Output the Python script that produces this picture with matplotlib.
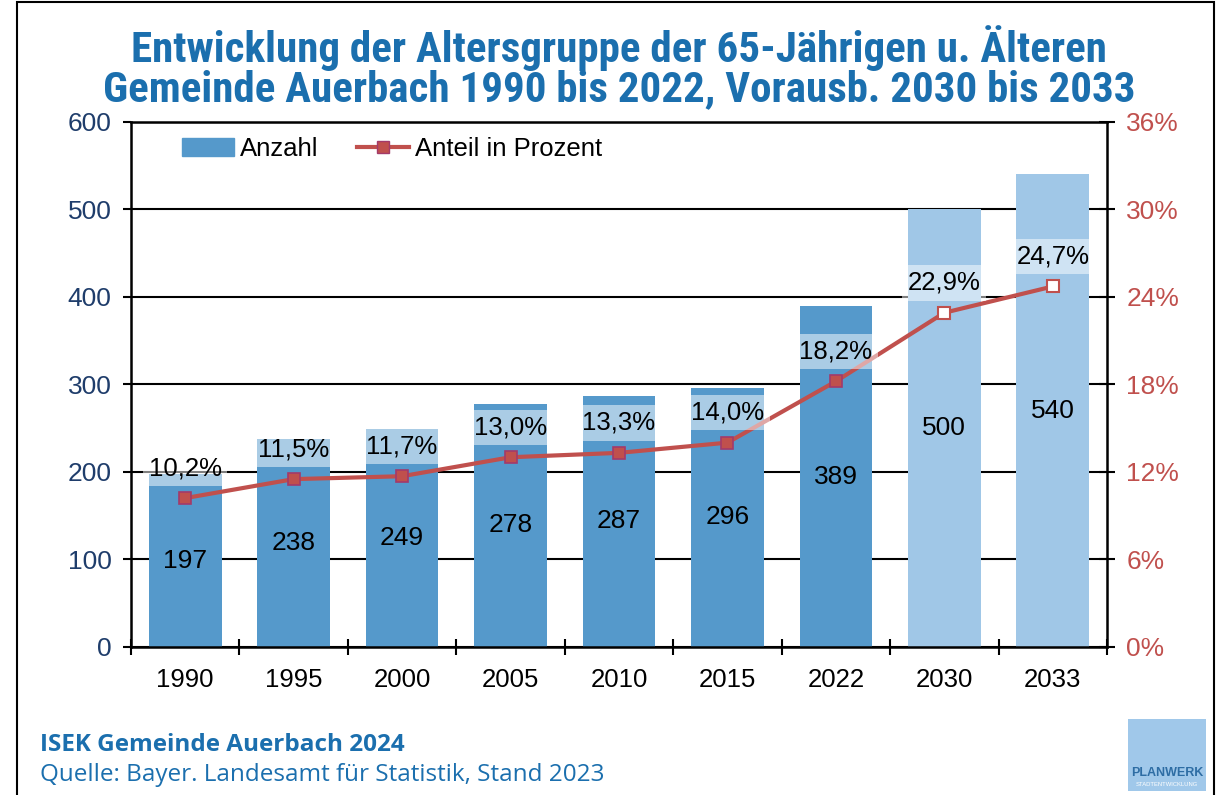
"""
Altersgruppe 65+ in Auerbach: Anzahl (Balken) und Anteil in Prozent (Linie)
"""

import matplotlib
matplotlib.use("Agg")
import matplotlib.pyplot as plt
from matplotlib import font_manager
from matplotlib.lines import Line2D
from matplotlib.patches import Patch, Rectangle

years = ["1990", "1995", "2000", "2005", "2010", "2015", "2022", "2030", "2033"]
anzahl = [197, 238, 249, 278, 287, 296, 389, 500, 540]
anteil = [10.2, 11.5, 11.7, 13.0, 13.3, 14.0, 18.2, 22.9, 24.7]
n_actual = 7  # 2030 and 2033 are projections

BAR_DARK = "#5599CB"
BAR_LIGHT = "#A0C7E7"
RED = "#C0504D"
RED_EDGE = "#A33A6A"
TITLE_BLUE = "#1B6FAE"
NAVY = "#1F3D6B"

available = {f.name for f in font_manager.fontManager.ttflist}

def pick(*names):
    for n in names:
        if n in available:
            return n
    return "DejaVu Sans"

BASE = pick("Liberation Sans", "Arial", "DejaVu Sans")
NARROW = pick("Liberation Sans Narrow", "DejaVu Sans Condensed", "Roboto Condensed", "Liberation Sans")
FOOT = pick("Open Sans", "Roboto", "Noto Sans")
plt.rcParams["font.family"] = [BASE, "DejaVu Sans"]

fig = plt.figure(figsize=(12.21, 7.95), dpi=100)
ax = fig.add_axes([131 / 1221, 1 - 647 / 795, (1107 - 131) / 1221, (647 - 121.5) / 795])
ax2 = ax.twinx()

x = list(range(len(years)))
colors = [BAR_DARK if i < n_actual else BAR_LIGHT for i in x]
ax.bar(x, anzahl, width=0.67, color=colors, zorder=2)
for i, v in enumerate(anzahl):
    ax.text(i, v / 2, str(v), ha="center", va="center", fontsize=19, color="black", zorder=4)

ax.set_xlim(-0.5, len(years) - 0.5)
ax.set_ylim(0, 600)
ax.set_yticks(range(0, 601, 100))
ax.grid(True, axis="y", color="black", linewidth=1.5)
ax.set_axisbelow(True)
ax.set_xticks(x)
ax.set_xticklabels(years, fontsize=18.5)
ax.set_xticks([i - 0.5 for i in range(len(years) + 1)], minor=True)
ax.tick_params(axis="x", which="major", length=0, pad=15)
ax.tick_params(axis="x", which="minor", length=12, width=1.5, direction="inout")
ax.tick_params(axis="y", length=6, width=1.5, direction="out", labelsize=19,
               labelcolor=NAVY, pad=8)
for s in ["left", "bottom", "top"]:
    ax.spines[s].set_linewidth(1.8)
ax.spines["right"].set_visible(False)

# share line
ax2.plot(x, anteil, color=RED, linewidth=3, zorder=3)
ax2.plot(x[:n_actual], anteil[:n_actual], "s", markersize=8, markerfacecolor=RED,
         markeredgecolor=RED_EDGE, markeredgewidth=1.2, zorder=4)
ax2.plot(x[n_actual:], anteil[n_actual:], "s", markersize=8, markerfacecolor="white",
         markeredgecolor=RED, markeredgewidth=1.5, zorder=4)
for i, p in enumerate(anteil):
    ax2.annotate(f"{p:.1f}%".replace(".", ","), (i, p), xytext=(0, 21.5),
                 textcoords="offset points", ha="center", va="center", fontsize=18.5,
                 zorder=5,
                 bbox=dict(boxstyle="square,pad=0.22", facecolor="white", alpha=0.5,
                           edgecolor="none"))
ax2.set_ylim(0, 36)
ax2.set_yticks(range(0, 37, 6))
ax2.set_yticklabels([f"{t}%" for t in range(0, 37, 6)])
ax2.tick_params(axis="y", length=12, width=1.5, direction="inout", labelsize=19,
                labelcolor=RED, pad=8)
ax2.spines["right"].set_linewidth(1.8)
for s in ["left", "bottom", "top"]:
    ax2.spines[s].set_visible(False)

handles = [Patch(color=BAR_DARK),
           Line2D([], [], color=RED, linewidth=3, marker="s", markersize=8,
                  markerfacecolor=RED, markeredgecolor=RED_EDGE)]
ax.legend(handles, ["Anzahl", "Anteil in Prozent"], ncol=2, frameon=False, fontsize=18.5,
          loc="center left", bbox_to_anchor=(0.042, 0.947), handlelength=2.0,
          handletextpad=0.25, columnspacing=1.5, borderaxespad=0)

# title and footer
fig.text(0.507, 1 - 48 / 795, "Entwicklung der Altersgruppe der 65-Jährigen u. Älteren",
         ha="center", va="center", fontsize=31, fontweight="bold", color=TITLE_BLUE,
         family=[NARROW, "DejaVu Sans"])
fig.text(0.507, 1 - 90 / 795, "Gemeinde Auerbach 1990 bis 2022, Vorausb. 2030 bis 2033",
         ha="center", va="center", fontsize=31, fontweight="bold", color=TITLE_BLUE,
         family=[NARROW, "DejaVu Sans"])
fig.text(40 / 1221, 1 - 745 / 795, "ISEK Gemeinde Auerbach 2024", ha="left", va="center",
         fontsize=17.5, fontweight="bold", color=TITLE_BLUE, family=[FOOT, "DejaVu Sans"])
fig.text(40 / 1221, 1 - 775 / 795, "Quelle: Bayer. Landesamt für Statistik, Stand 2023",
         ha="left", va="center", fontsize=17.5, color=TITLE_BLUE, family=[FOOT, "DejaVu Sans"])

# logo box
fig.add_artist(Rectangle((1128 / 1221, 1 - 791 / 795), 78 / 1221, 72 / 795,
                         transform=fig.transFigure, facecolor="#A0C8EA", edgecolor="none"))
fig.text(1167 / 1221, 1 - 773 / 795, "PLANWERK", ha="center", va="center", fontsize=9,
         fontweight="bold", color="#2E6DA4")
fig.text(1167 / 1221, 1 - 785 / 795, "STADTENTWICKLUNG", ha="center", va="center",
         fontsize=4.2, color="white")

# outer frame
fig.add_artist(Rectangle((17 / 1221, -0.02), (1214 - 17) / 1221, 1 - 2 / 795 + 0.02,
                         transform=fig.transFigure, facecolor="none", edgecolor="black",
                         linewidth=1.5))

fig.savefig("out.png", dpi=100)
